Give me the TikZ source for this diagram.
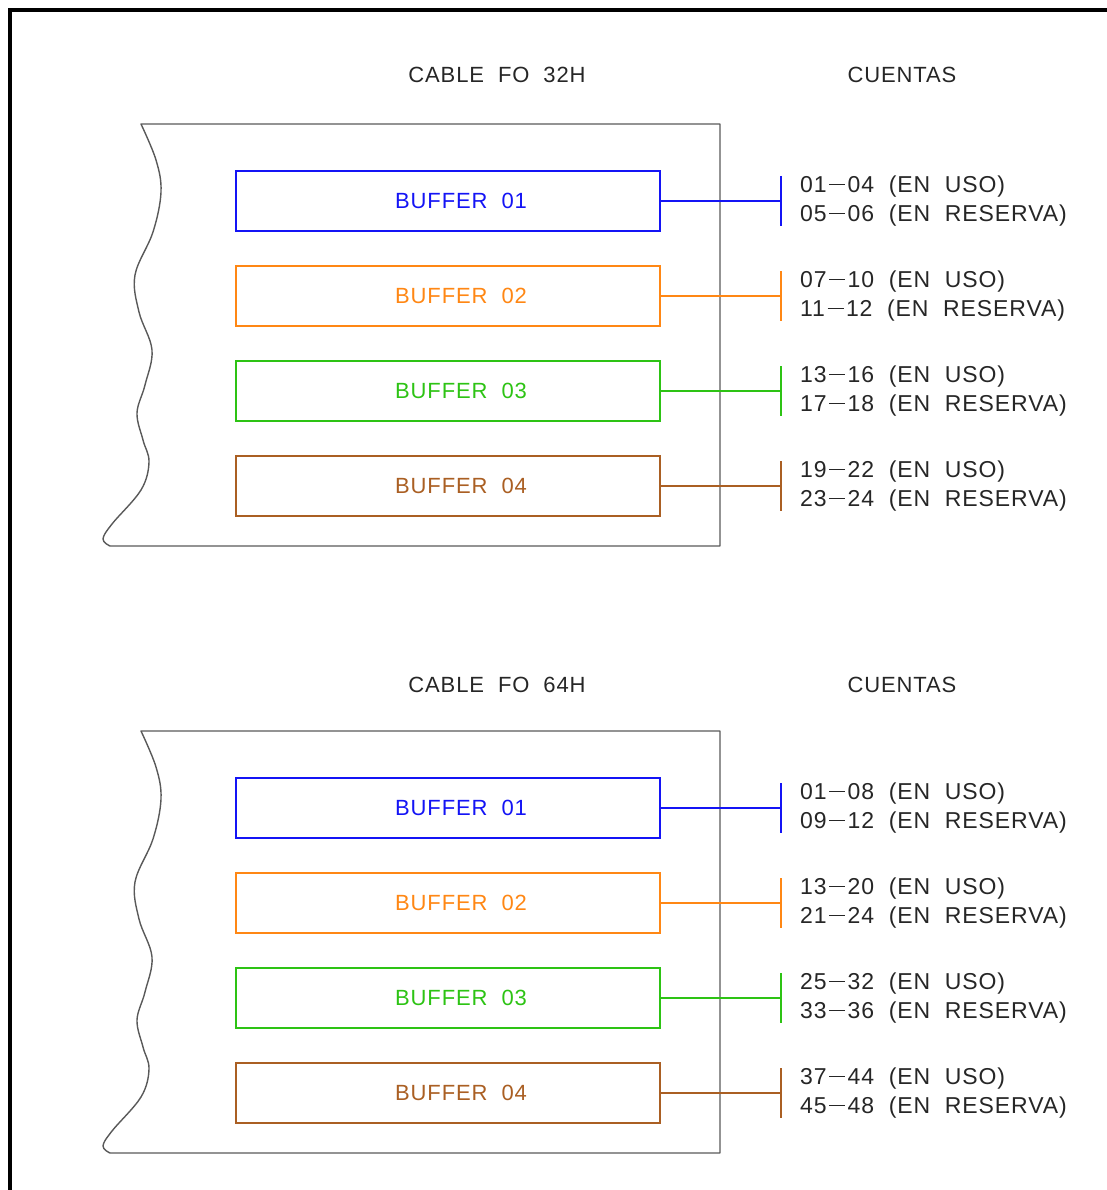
\documentclass[tikz,border=0pt]{standalone}
\usepackage{fontspec}
\setmainfont{Liberation Sans}[LetterSpace=4]
\usetikzlibrary{positioning}

\definecolor{bufblue}{RGB}{20,20,245}
\definecolor{buforange}{RGB}{255,135,20}
\definecolor{bufgreen}{RGB}{45,195,20}
\definecolor{bufbrown}{RGB}{170,95,35}

% long dash between fibre counts
\newcommand{\cdash}{\hspace{2.5pt}\rule[7pt]{16pt}{1.3pt}\hspace{2.5pt}}

\begin{document}
\begin{tikzpicture}[
    x=1pt,
    y=-1pt,
    label/.style={
        font=\fontsize{22}{29}\selectfont,
        text=black!85,
        inner sep=0pt
    },
    buffer/.style={
        draw=#1,
        text=#1,
        line width=1.8pt,
        minimum width=424pt,
        minimum height=60pt,
        inner sep=0pt,
        font=\fontsize{22}{29}\selectfont,
        execute at begin node=\hspace*{26pt}
    },
    link/.style={
        draw=#1,
        line width=1.6pt
    },
    counts/.style={
        label,
        align=left,
        font=\fontsize{23}{29}\selectfont
    },
    cable/.style={
        draw=black!65,
        line width=1.4pt,
        line join=round
    },
    frame/.style={
        draw=black,
        line width=4pt
    }
]

    \useasboundingbox (0,0) rectangle (1106,1190);
    \draw[frame] (10,10) rectangle (1112,1196);

    % === Cable FO 32H ===
    \node[label] (title1) at (497,75) {CABLE~ FO~ 32H};
    \node[label] (cuentas1) at (902,75) {CUENTAS};

    \draw[cable] (720,124) -- (141,124) -- plot[smooth, tension=0.6] coordinates {
        (141,124) (156,160) (161,192) (153,232) (135,275) (139,312) (152,350)
        (145,385) (137,413) (143,440) (149,462) (141,490) (112,524) (103,539) (110,546)}
        -- (720,546) -- cycle;

    \node[buffer=bufblue]   (b1) at (448,201) {BUFFER~ 01};
    \node[buffer=buforange] (b2) at (448,296) {BUFFER~ 02};
    \node[buffer=bufgreen]  (b3) at (448,391) {BUFFER~ 03};
    \node[buffer=bufbrown]  (b4) at (448,486) {BUFFER~ 04};

    \coordinate (t1) at (781,201);
    \coordinate (t2) at (781,296);
    \coordinate (t3) at (781,391);
    \coordinate (t4) at (781,486);

    \draw[link=bufblue]   (b1.east) -- (t1) ([yshift=25pt]t1) -- ([yshift=-25pt]t1);
    \draw[link=buforange] (b2.east) -- (t2) ([yshift=25pt]t2) -- ([yshift=-25pt]t2);
    \draw[link=bufgreen]  (b3.east) -- (t3) ([yshift=25pt]t3) -- ([yshift=-25pt]t3);
    \draw[link=bufbrown]  (b4.east) -- (t4) ([yshift=25pt]t4) -- ([yshift=-25pt]t4);

    \node[counts, right=19pt of t1] (c1) {01\cdash04~ (EN~ USO)\\05\cdash06~ (EN~ RESERVA)};
    \node[counts, right=19pt of t2] (c2) {07\cdash10~ (EN~ USO)\\11\cdash12~ (EN~ RESERVA)};
    \node[counts, right=19pt of t3] (c3) {13\cdash16~ (EN~ USO)\\17\cdash18~ (EN~ RESERVA)};
    \node[counts, right=19pt of t4] (c4) {19\cdash22~ (EN~ USO)\\23\cdash24~ (EN~ RESERVA)};

    % === Cable FO 64H ===
    \node[label] (title2) at (497,685) {CABLE~ FO~ 64H};
    \node[label] (cuentas2) at (902,685) {CUENTAS};

    \begin{scope}[shift={(0,607)}]
    \draw[cable] (720,124) -- (141,124) -- plot[smooth, tension=0.6] coordinates {
        (141,124) (156,160) (161,192) (153,232) (135,275) (139,312) (152,350)
        (145,385) (137,413) (143,440) (149,462) (141,490) (112,524) (103,539) (110,546)}
        -- (720,546) -- cycle;
    \end{scope}

    \node[buffer=bufblue]   (b5) at (448,808) {BUFFER~ 01};
    \node[buffer=buforange] (b6) at (448,903) {BUFFER~ 02};
    \node[buffer=bufgreen]  (b7) at (448,998) {BUFFER~ 03};
    \node[buffer=bufbrown]  (b8) at (448,1093) {BUFFER~ 04};

    \coordinate (t5) at (781,808);
    \coordinate (t6) at (781,903);
    \coordinate (t7) at (781,998);
    \coordinate (t8) at (781,1093);

    \draw[link=bufblue]   (b5.east) -- (t5) ([yshift=25pt]t5) -- ([yshift=-25pt]t5);
    \draw[link=buforange] (b6.east) -- (t6) ([yshift=25pt]t6) -- ([yshift=-25pt]t6);
    \draw[link=bufgreen]  (b7.east) -- (t7) ([yshift=25pt]t7) -- ([yshift=-25pt]t7);
    \draw[link=bufbrown]  (b8.east) -- (t8) ([yshift=25pt]t8) -- ([yshift=-25pt]t8);

    \node[counts, right=19pt of t5] (c5) {01\cdash08~ (EN~ USO)\\09\cdash12~ (EN~ RESERVA)};
    \node[counts, right=19pt of t6] (c6) {13\cdash20~ (EN~ USO)\\21\cdash24~ (EN~ RESERVA)};
    \node[counts, right=19pt of t7] (c7) {25\cdash32~ (EN~ USO)\\33\cdash36~ (EN~ RESERVA)};
    \node[counts, right=19pt of t8] (c8) {37\cdash44~ (EN~ USO)\\45\cdash48~ (EN~ RESERVA)};

\end{tikzpicture}
\end{document}
